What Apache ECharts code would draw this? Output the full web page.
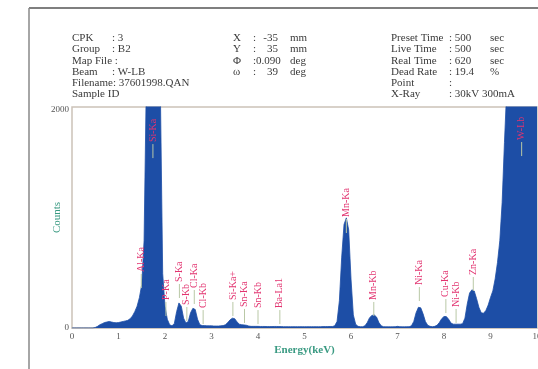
<!DOCTYPE html>
<html><head><meta charset="utf-8">
<script src="https://cdn.jsdelivr.net/npm/echarts@6/dist/echarts.min.js"></script>
<style>html,body{margin:0;padding:0;background:#fff}#c{width:538px;height:369px}</style>
</head><body><div id="c"></div>
<script>
// Energy grid (keV) of the spectrum samples
const energyStart = 0, energyStep = 0.05;
// Counts, one per 0.05 keV from 0 to 10 keV
const counts = [
 0,0,0,0,0,0,0,0,0,0,            // 0.00-0.45
 5,15,30,40,50,55,60,55,50,48,   // 0.50-0.95
 50,55,60,65,70,85,110,150,200,280, // 1.00-1.45
 400,800,2300,2500,2500,2500,2500,2500,2200,500, // 1.50-1.95
 200,80,30,20,40,150,230,200,90,45, // 2.00-2.45
 60,140,180,170,80,30,22,22,20,20,  // 2.50-2.95
 20,18,18,18,20,22,30,50,75,90,     // 3.00-3.45
 85,55,35,30,28,25,18,15,15,15,     // 3.50-3.95
 15,14,14,14,13,13,13,14,14,13,     // 4.00-4.45
 13,12,12,12,12,12,12,12,12,12,     // 4.50-4.95
 12,12,12,12,12,12,12,12,13,13,     // 5.00-5.45
 13,14,14,20,60,250,650,950,1010,900, // 5.50-5.95
 450,120,35,15,12,12,20,50,95,115,  // 6.00-6.45
 120,100,50,20,12,11,11,11,11,12,   // 6.50-6.95
 15,12,11,11,12,12,20,60,140,190,   // 7.00-7.45
 185,130,60,25,15,12,15,25,50,85,   // 7.50-7.95
 105,105,80,45,35,35,35,35,40,90,   // 8.00-8.45
 220,320,350,340,270,190,140,135,160,210, // 8.50-8.95
 280,340,450,600,800,1150,1700,2200,2500,2500, // 9.00-9.45
 2500,2500,2500,2500,2500,2500,2500,2500,2500,2500, // 9.50-9.95
 2500                               // 10.00
];
// Peak identification labels
const peakNames  = ['Al-Ka','Si-Ka','P-Ka','S-Ka','S-Kb','Cl-Ka','Cl-Kb','Si-Ka+','Sn-Ka','Sn-Kb','Ba-La1','Mn-Ka','Mn-Kb','Ni-Ka','Cu-Ka','Ni-Kb','Zn-Ka','W-Lb'];
const peakEnergy = [1.49,1.74,2.02,2.31,2.47,2.63,2.82,3.46,3.71,4.00,4.47,5.90,6.49,7.47,8.04,8.26,8.63,9.67];
const peakLabelY = [513,1705,257,422,211,367,183,257,193,183,183,1018,257,394,284,193,486,1724];
// Axis tick labels
const xTicks = [0,1,2,3,4,5,6,7,8,9,10];
const yTicks = [0,2000];

const spectrum = counts.map((v,i)=>[+(energyStart+i*energyStep).toFixed(2), v]);
const peaks = peakNames.map((n,i)=>[peakEnergy[i], peakLabelY[i], n]);

const serif = '"Liberation Serif","DejaVu Serif",serif';
const hdr = '#3a3a3a';
const hfont = '11px '+serif;
function T(x,y,text){return {type:'text',x:x,y:y,style:{text:text,fill:hdr,font:hfont,textVerticalAlign:'middle'}};}
function TR(x,y,text){return {type:'text',x:x,y:y,style:{text:text,fill:hdr,font:hfont,textAlign:'right',textVerticalAlign:'middle'}};}
const headerLines = [];
const rows = [38.5,49.6,60.7,71.8,82.9,94];
[['CPK',': 3'],['Group',': B2'],['Map File :',''],['Beam',': W-LB'],['Filename: 37601998.QAN',''],['Sample ID','']].forEach((r,i)=>{
  headerLines.push(T(72,rows[i],r[0])); if(r[1]) headerLines.push(T(112,rows[i],r[1]));
});
[['X',':','-35','mm'],['Y',':','35','mm'],['Φ',':0.090','','deg'],['ω',':','39','deg']].forEach((r,i)=>{
  headerLines.push(T(233,rows[i],r[0])); headerLines.push(T(253,rows[i],r[1]));
  if(r[2]) headerLines.push(TR(278,rows[i],r[2]));
  headerLines.push(T(290,rows[i],r[3]));
});
[['Preset Time',': 500','sec'],['Live Time',': 500','sec'],['Real Time',': 620','sec'],['Dead Rate',': 19.4','%'],['Point',':',''],['X-Ray',': 30kV 300mA','']].forEach((r,i)=>{
  headerLines.push(T(391,rows[i],r[0])); headerLines.push(T(449,rows[i],r[1]));
  if(r[2]) headerLines.push(T(490,rows[i],r[2]));
});

const chart = echarts.init(document.getElementById('c'));
chart.setOption({
  animation:false,
  backgroundColor:'#fff',
  grid:{left:72,right:1,top:107,bottom:41,show:true,borderColor:'#cbc2b8',borderWidth:1.5,
        containLabel:false,outerBoundsMode:'none'},
  xAxis:{type:'value',min:0,max:10,interval:1,
    name:'Energy(keV)',nameLocation:'middle',nameGap:17,nameMoveOverlap:false,
    nameTextStyle:{color:'#3a9a82',fontFamily:serif,fontSize:11,fontWeight:'bold'},
    axisLine:{show:true,lineStyle:{color:'#cbc2b8',width:1.5}},axisTick:{show:false},splitLine:{show:false},
    axisLabel:{color:'#555',fontFamily:serif,fontSize:9,margin:4,formatter:v=>xTicks.includes(v)?String(v):''}},
  yAxis:{type:'value',min:0,max:2027,interval:500,
    name:'Counts',nameLocation:'middle',nameGap:9,nameMoveOverlap:false,
    nameTextStyle:{color:'#3a9a82',fontFamily:serif,fontSize:11},
    axisLine:{show:false},axisTick:{show:false},splitLine:{show:false},
    axisLabel:{color:'#555',fontFamily:serif,fontSize:9,margin:3,formatter:v=>yTicks.includes(v)?String(v):''}},
  graphic:[
    {type:'line',shape:{x1:29,y1:8,x2:538,y2:8},style:{stroke:'#555',lineWidth:1.5}},
    {type:'line',shape:{x1:29,y1:8,x2:29,y2:369},style:{stroke:'#888',lineWidth:1.5}},
    ...headerLines
  ],
  series:[
    {type:'line',data:spectrum,symbol:'none',clip:true,
     lineStyle:{color:'#1d4ea6',width:0.8},areaStyle:{color:'#1d4ea6',opacity:1},z:2},
    {type:'custom',data:peaks,clip:false,z:5,
     renderItem:function(params,api){
       const p = api.coord([api.value(0),api.value(1)]);
       const name = peaks[params.dataIndex][2];
       return {type:'group',children:[
         {type:'line',shape:{x1:p[0],y1:p[1]+2,x2:p[0],y2:p[1]+16},style:{stroke:'#b9c8a6',lineWidth:1}},
         {type:'text',x:p[0],y:p[1],rotation:Math.PI/2,
          style:{text:name,fill:'#e23470',font:'10px '+serif,textAlign:'left',textVerticalAlign:'middle'}}
       ]};
     }}
  ]
});
</script></body></html>
